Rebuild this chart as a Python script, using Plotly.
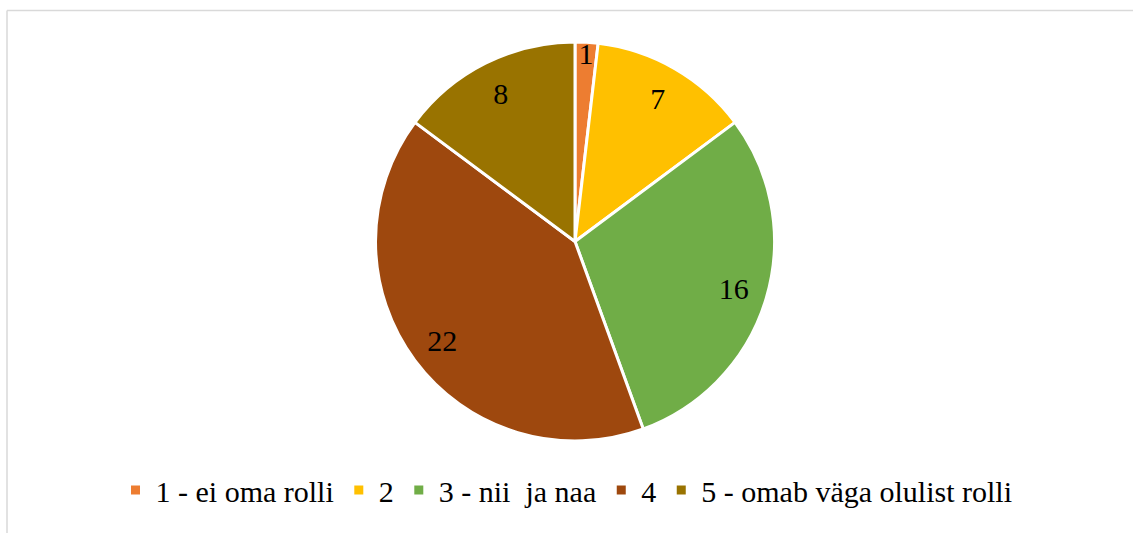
import plotly.graph_objects as go

labels = ["1 - ei oma rolli", "2", "3 - nii\u00a0 ja naa", "4", "5 - omab väga olulist rolli"]
values = [1, 7, 16, 22, 8]
colors = ["#ED7D31", "#FFC000", "#70AD47", "#9E480E", "#997300"]

SERIF = "'Liberation Serif', 'Times New Roman', Times, serif"
dom = dict(x=[375/1133, 775/1133], y=[1-441/533, 1-42/533])

fig = go.Figure()
# slices
fig.add_trace(go.Pie(
    labels=labels, values=values, sort=False, direction="clockwise", rotation=0,
    marker=dict(colors=colors, line=dict(color="white", width=3)),
    textinfo="none", domain=dom, hoverinfo="label+value",
))
# data labels (ring overlay so labels sit near outer part of slices)
fig.add_trace(go.Pie(
    labels=labels, values=values, sort=False, direction="clockwise", rotation=0,
    hole=0.66, showlegend=False,
    marker=dict(colors=["rgba(0,0,0,0)"]*len(values), line=dict(width=0)),
    textinfo="value", textposition="inside", insidetextorientation="horizontal",
    textfont=dict(family=SERIF, size=30, color="black"),
    domain=dom, hoverinfo="skip",
))

fig.update_layout(
    width=1133, height=533,
    margin=dict(l=0, r=0, t=0, b=0),
    paper_bgcolor="white",
    plot_bgcolor="white",
    font=dict(family=SERIF, size=30, color="black"),
    uniformtext=dict(minsize=30, mode="show"),
    legend=dict(
        orientation="h",
        x=0.5, xanchor="center",
        y=1-490/533, yanchor="middle",
        font=dict(family=SERIF, size=30, color="black"),
        itemwidth=30,
    ),
    shapes=[
        dict(type="line", xref="paper", yref="paper",
             x0=7/1133, x1=1, y0=1-10.5/533, y1=1-10.5/533,
             line=dict(color="#D9D9D9", width=1.5)),
        dict(type="line", xref="paper", yref="paper",
             x0=7/1133, x1=7/1133, y0=0, y1=1-10.5/533,
             line=dict(color="#D9D9D9", width=1.5)),
    ],
)

fig.write_html("out.html", config={"displayModeBar": False},
               post_script="document.body.style.margin='0';")
